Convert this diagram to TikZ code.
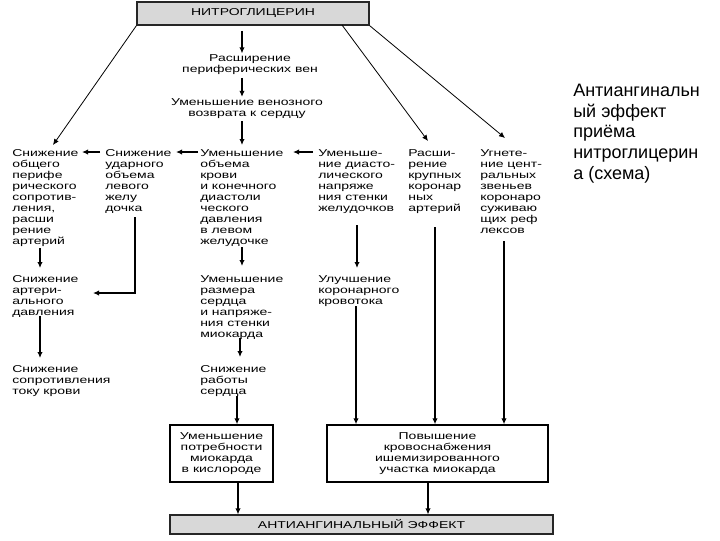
\documentclass[tikz,border=0pt]{standalone}
\usepackage{fontspec}
\setmainfont{Liberation Sans}
\newfontfamily\dfont[FakeStretch=1.4]{Liberation Sans}
\usetikzlibrary{arrows.meta}
\definecolor{boxgray}{RGB}{216,216,216}
\begin{document}
\begin{tikzpicture}[x=0.75pt,y=-0.75pt,
  txt/.style={anchor=north west, align=left, inner sep=0pt,
    font=\dfont\fontsize{7.5}{8.25}\selectfont},
  ctxt/.style={align=center, inner sep=0pt,
    font=\dfont\fontsize{7.5}{8.25}\selectfont},
  gbox/.style={draw=black!85, fill=boxgray, line width=0.8pt, inner sep=0pt,
    font=\dfont\fontsize{7.5}{8.25}\selectfont},
  wbox/.style={draw=black, line width=1pt, inner sep=0pt, align=center,
    minimum height=42.75pt, font=\dfont\fontsize{7.5}{8.25}\selectfont},
  arr/.style={line width=0.9pt, -{Latex[length=4.5pt,width=4pt]}},
  thinarr/.style={line width=0.6pt, -{Latex[length=4.5pt,width=4pt]}},
  caption/.style={anchor=north west, align=left, inner sep=0pt,
    font=\fontsize{13.5}{15.5}\selectfont}
]
\fill[white] (0,0) rectangle (720,540);
\useasboundingbox (0,0) rectangle (720,540);

% top and bottom boxes
\node[gbox, minimum width=174pt, minimum height=17.25pt] (top) at (253,13.5) {НИТРОГЛИЦЕРИН};
\node[wbox, minimum width=77.25pt] (b1) at (221.5,453.5)
  {Уменьшение\\потребности\\миокарда\\в кислороде};
\node[wbox, minimum width=165.75pt] (b2) at (437.5,453.5)
  {Повышение\\кровоснабжения\\ишемизированного\\участка миокарда};
\node[gbox, minimum width=287.25pt, minimum height=14.25pt] (bot) at (361.5,524.5)
  {АНТИАНГИНАЛЬНЫЙ ЭФФЕКТ};

% central column
\node[ctxt] (v1) at (250,65) {Расширение\\периферических вен};
\node[ctxt] (v2) at (247,108.5) {Уменьшение венозного\\возврата к сердцу};

% row 2
\node[txt] (c1) at (12,149) {Снижение\\общего\\перифе\\рического\\сопротив-\\ления,\\расши\\рение\\артерий};
\node[txt] (c2) at (105,149) {Снижение\\ударного\\объема\\левого\\желу\\дочка};
\node[txt] (c3) at (200,149) {Уменьшение\\объема\\крови\\и конечного\\диастоли\\ческого\\давления\\в левом\\желудочке};
\node[txt] (c4) at (318,149) {Уменьше-\\ние диасто-\\лического\\напряже\\ния стенки\\желудочков};
\node[txt] (c5) at (408,149) {Расши-\\рение\\крупных\\коронар\\ных\\артерий};
\node[txt] (c6) at (480,149) {Угнете-\\ние цент-\\ральных\\звеньев\\коронаро\\суживаю\\щих реф\\лексов};

% row 3
\node[txt] (d1) at (12,275) {Снижение\\артери-\\ального\\давления};
\node[txt] (e1) at (12,365) {Снижение\\сопротивления\\току крови};
\node[txt] (d3) at (200,275) {Уменьшение\\размера\\сердца\\и напряже-\\ния стенки\\миокарда};
\node[txt] (e3) at (200,365) {Снижение\\работы\\сердца};
\node[txt] (d4) at (318,275) {Улучшение\\коронарного\\кровотока};

% caption
\node[caption] (cap) at (573,84) {Антиангинальн\\ый эффект\\приёма\\нитроглицерин\\а (схема)};

% named end points
\coordinate (xm) at (242,0);
\coordinate (c1t) at (53,145);
\coordinate (tr1) at (342,25);
\coordinate (c5t) at (428,141);
\coordinate (c6t) at (505,138);
\coordinate (h1a) at (100,152); \coordinate (h1b) at (82,152);
\coordinate (h2a) at (198,152); \coordinate (h2b) at (176,152);
\coordinate (h3a) at (313,152); \coordinate (h3b) at (293,152);
\coordinate (k1a) at (40,248); \coordinate (k1b) at (40,268);
\coordinate (k2a) at (40,316); \coordinate (k2b) at (40,358);
\coordinate (m1) at (135,217); \coordinate (m2) at (135,293); \coordinate (m3) at (93,293);
\coordinate (n1a) at (242,247); \coordinate (n1b) at (242,266);
\coordinate (n2a) at (240,338); \coordinate (n2b) at (240,357);
\coordinate (n3a) at (237,396);
\coordinate (q1a) at (357,225); \coordinate (q1b) at (357,268);
\coordinate (q2a) at (356,306);
\coordinate (r1a) at (435,227);
\coordinate (s1a) at (504,241);

% connectors from the top
\draw[arr, shorten <=4pt, shorten >=1pt] (top.south -| xm) -- (v1.north -| xm);
\draw[arr, shorten <=2pt, shorten >=1pt] (v1.south -| xm) -- (v2.north -| xm);
\draw[arr, shorten <=2pt, shorten >=3pt] (v2.south -| xm) -- (c3.north -| xm);
\draw[thinarr] (top.south west) -- (c1t);
\draw[thinarr] (tr1) -- (c5t);
\draw[thinarr] (top.south east) -- (c6t);

% horizontal arrows row 2
\draw[arr] (h1a) -- (h1b);
\draw[arr] (h2a) -- (h2b);
\draw[arr] (h3a) -- (h3b);

% column 1
\draw[arr] (k1a) -- (k1b);
\draw[arr] (k2a) -- (k2b);
% column 2
\draw[arr] (m1) -- (m2) -- (m3);
% column 3
\draw[arr] (n1a) -- (n1b);
\draw[arr] (n2a) -- (n2b);
\draw[arr] (n3a) -- (b1.north -| n3a);
% column 4
\draw[arr] (q1a) -- (q1b);
\draw[arr, line width=1.4pt] (q2a) -- (b2.north -| q2a);
% column 5, 6
\draw[arr] (r1a) -- (b2.north -| r1a);
\draw[arr] (s1a) -- (b2.north -| s1a);

% to the bottom box
\coordinate (xb1) at (238,0);
\coordinate (xb2) at (428,0);
\draw[arr] (b1.south -| xb1) -- (bot.north -| xb1);
\draw[arr] (b2.south -| xb2) -- (bot.north -| xb2);
\end{tikzpicture}
\end{document}
